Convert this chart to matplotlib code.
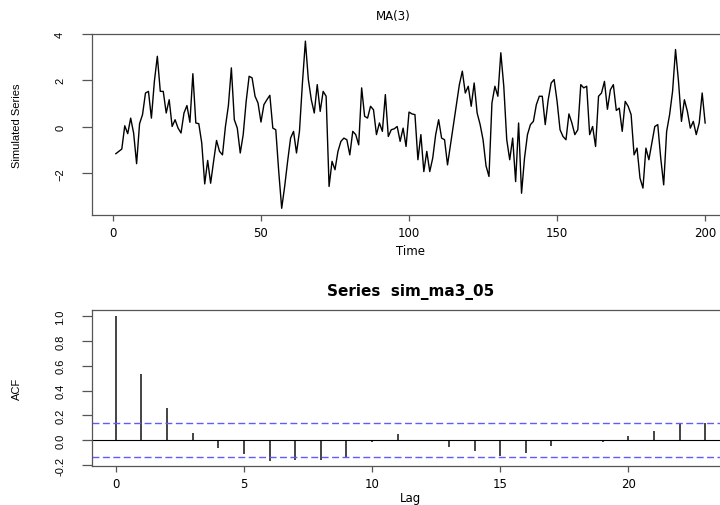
import numpy as np
import matplotlib
matplotlib.use("Agg")
import matplotlib.pyplot as plt

plt.rcParams['font.family'] = ['DejaVu Sans']
narrow = ['Liberation Sans Narrow', 'Liberation Sans', 'DejaVu Sans']

# simulated MA(3) series
sim_ma3_05 = [
    -1.16, -1.06, -0.96, 0.04, -0.30, 0.37, -0.28, -1.59, 0.13, 0.52,
    1.45, 1.52, 0.37, 1.95, 3.03, 1.52, 1.52, 0.59, 1.16, 0.01,
    0.30, -0.06, -0.27, 0.59, 0.91, 0.19, 2.28, 0.16, 0.13, -0.70,
    -2.46, -1.45, -2.43, -1.49, -0.59, -1.06, -1.21, 0.01, 0.91, 2.53,
    0.30, -0.06, -1.13, -0.34, 1.09, 2.17, 2.10, 1.31, 1.02, 0.20,
    0.95, 1.16, 1.35, -0.06, -0.13, -1.93, -3.51, -2.57, -1.49, -0.49,
    -0.20, -1.13, -0.20, 1.88, 3.68, 2.03, 1.16, 0.59, 1.81, 0.66,
    1.52, 1.31, -2.57, -1.49, -1.85, -1.06, -0.63, -0.49, -0.56, -1.21,
    -0.20, -0.34, -0.78, 1.67, 0.45, 0.37, 0.88, 0.73, -0.34, 0.16,
    -0.20, 1.38, -0.42, -0.13, -0.09, 0.01, -0.63, -0.06, -0.85, 0.63,
    0.55, 0.52, -1.42, -0.34, -1.93, -1.06, -1.93, -1.35, -0.34, 0.30,
    -0.49, -0.56, -1.64, -0.78, 0.09, 0.95, 1.81, 2.39, 1.45, 1.74,
    0.88, 1.88, 0.59, 0.10, -0.56, -1.68, -2.14, 1.02, 1.74, 1.31,
    3.18, 1.74, -0.56, -1.42, -0.49, -2.36, 0.16, -2.86, -1.35, -0.34,
    0.09, 0.23, 0.95, 1.31, 1.31, 0.09, 1.16, 1.88, 2.03, 1.09,
    -0.13, -0.42, -0.56, 0.55, 0.16, -0.34, -0.13, 1.81, 1.67, 1.74,
    -0.34, 0.01, -0.85, 1.31, 1.45, 1.95, 0.75, 1.59, 1.81, 0.70,
    0.80, -0.20, 1.09, 0.88, 0.52, -1.21, -0.92, -2.21, -2.64, -0.92,
    -1.42, -0.70, 0.01, 0.09, -1.35, -2.50, -0.20, 0.52, 1.52, 3.32,
    1.95, 0.23, 1.16, 0.66, -0.06, 0.23, -0.34, 0.16, 1.45, 0.16,
]
time = np.arange(1, len(sim_ma3_05) + 1)

# sample ACF
lags = np.arange(0, 24)
acf_vals = [1.0, 0.53, 0.26, 0.06, -0.06, -0.108, -0.164, -0.156, -0.162, -0.132,
            -0.016, 0.046, -0.01, -0.057, -0.084, -0.127, -0.10, -0.051, -0.01, -0.013,
            0.032, 0.075, 0.129, 0.135]
n_obs = 200

def r_lim(lo, hi):
    pad = 0.04 * (hi - lo)
    return lo - pad, hi + pad

fs = 8.5
fig = plt.figure(figsize=(7.2, 5.06), dpi=100)

# top: the series
ax1 = fig.add_axes([0.1282, 0.5731, 0.8839, 0.3583])
ax1.plot(time, sim_ma3_05, color='black', lw=1.0)
ax1.set_xlim(r_lim(1, 200))
ax1.set_ylim(r_lim(min(sim_ma3_05), max(sim_ma3_05)))
ax1.set_xticks([0, 50, 100, 150, 200])
ax1.set_yticks([-2, 0, 2, 4])
ax1.set_title('MA(3)', fontsize=8.5, x=0.4725, y=1 + 18 / 181.3, pad=0, va='center')
ax1.set_xlabel('Time', fontsize=fs)
ax1.xaxis.set_label_coords(0.5, (216 - 251) / 181.3)
ax1.set_ylabel('Simulated Series', fontsize=8, family=narrow)
ax1.yaxis.set_label_coords(-0.118, 0.5)

# bottom: the ACF
ax2 = fig.add_axes([0.1282, 0.0765, 0.8839, 0.3083])
ax2.vlines(lags, 0, acf_vals, color='#111111', lw=1.1)
ax2.axhline(0, color='black', lw=0.8)
clim = 1.96 / np.sqrt(n_obs)
ax2.axhline(clim, color='#5c5cff', lw=1.0, ls=(0, (5, 2.5)))
ax2.axhline(-clim, color='#5c5cff', lw=1.0, ls=(0, (5, 2.5)))
ax2.set_xlim(r_lim(0, 23))
ax2.set_ylim(r_lim(min(min(acf_vals), -clim), max(acf_vals)))
ax2.set_xticks([0, 5, 10, 15, 20])
ax2.set_yticks([-0.2, 0.0, 0.2, 0.4, 0.6, 0.8, 1.0])
ax2.set_yticklabels(['-0.2', '0.0', '0.2', '0.4', '0.6', '0.8', '1.0'])
ax2.set_title('Series  sim_ma3_05', fontsize=11, fontweight='bold',
              y=1 + 19 / 156.0, pad=0, va='center')
ax2.set_xlabel('Lag', fontsize=fs)
ax2.xaxis.set_label_coords(0.5, (467.3 - 499) / 156.0)
ax2.set_ylabel('ACF', fontsize=8, family=narrow)
ax2.yaxis.set_label_coords(-0.118, 0.5)

for ax in (ax1, ax2):
    ax.xaxis.label.set_va('center')
    ax.yaxis.label.set_va('center')
    for s in ax.spines.values():
        s.set_linewidth(0.9)
        s.set_color('#555555')
    ax.tick_params(axis='x', direction='out', length=4, width=0.9,
                   color='#555555', labelsize=fs, pad=4)
    ax.tick_params(axis='y', direction='out', length=7.5, width=0.9,
                   color='#555555', labelsize=8, pad=12)
    for lab in ax.get_yticklabels():
        lab.set_rotation(90)
        lab.set_va('center')
        lab.set_family(narrow)

fig.savefig('out.png', dpi=100)
